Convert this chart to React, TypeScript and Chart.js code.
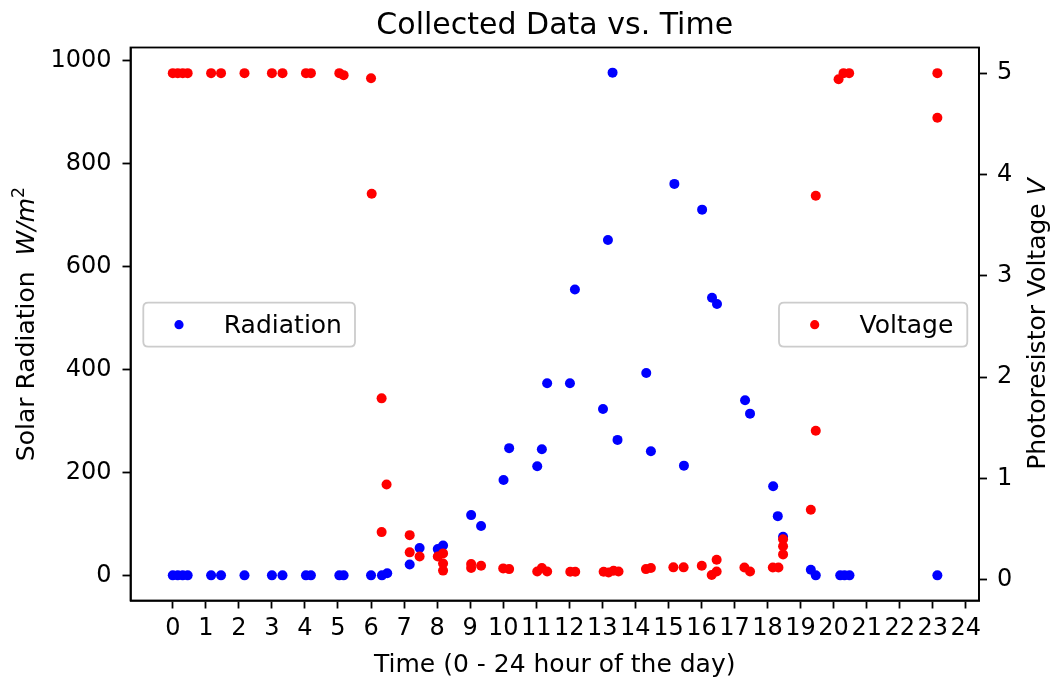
import React, { useEffect, useRef } from "react";
import { Chart, registerables } from "chart.js";

Chart.register(...registerables);

const FONT = '"DejaVu Sans", sans-serif';

const chartTitle = "Collected Data vs. Time";
const xAxisTitle = "Time (0 - 24 hour of the day)";
const radiationLabel = "Radiation";
const voltageLabel = "Voltage";

const radiationHours = [
  0.0, 0.15, 0.3, 0.45, 1.16, 1.46, 2.17, 3.0, 3.32, 4.03, 4.18, 5.04, 5.17, 6.0, 6.33, 6.49,
  7.17, 7.47, 8.02, 8.18, 9.03, 9.33, 10.01, 10.18, 11.03, 11.17, 11.33, 12.02, 12.17, 13.02,
  13.17, 13.31, 13.46, 14.33, 14.47, 15.18, 15.47, 16.02, 16.32, 16.47, 17.32, 17.47, 18.17,
  18.31, 18.47, 19.31, 19.46, 20.2, 20.33, 20.48, 23.14,
];
const radiationValues = [
  0, 0, 0, 0, 0, 0, 0, 0, 0, 0, 0, 0, 0, 0, 0, 4,
  21, 53, 51, 58, 117, 96, 185, 247, 212, 245, 373, 373, 555, 323,
  651, 976, 263, 393, 241, 760, 213, 710, 539, 527, 340, 314, 173,
  115, 75, 11, 0, 0, 0, 0, 0,
];

const voltageHours = [
  0.0, 0.15, 0.3, 0.45, 1.16, 1.46, 2.17, 3.0, 3.32, 4.03, 4.18, 5.04, 5.17, 6.0, 6.02, 6.32,
  6.47, 6.32, 7.17, 7.17, 7.47, 8.02, 8.18, 8.18, 8.18, 9.03, 9.03, 9.33, 10.0, 10.18, 11.03,
  11.17, 11.33, 12.03, 12.18, 13.04, 13.19, 13.34, 13.49, 14.32, 14.47, 15.15, 15.46, 16.01,
  16.31, 16.46, 16.46, 17.3, 17.47, 18.16, 18.33, 18.47, 18.47, 18.47, 19.31, 19.46, 19.46,
  20.15, 20.3, 20.47, 23.14, 23.14,
];
const voltageValues = [
  5.0, 5.0, 5.0, 5.0, 5.0, 5.0, 5.0, 5.0, 5.0, 5.0, 5.0, 5.0, 4.98, 4.95, 3.81, 1.79,
  0.94, 0.47, 0.44, 0.27, 0.23, 0.23, 0.26, 0.16, 0.09, 0.155, 0.115, 0.138, 0.112, 0.105, 0.082,
  0.115, 0.082, 0.079, 0.079, 0.079, 0.072, 0.089, 0.082, 0.105, 0.115, 0.122, 0.122, 0.138,
  0.046, 0.082, 0.198, 0.12, 0.082, 0.12, 0.12, 0.4, 0.33, 0.25, 0.69, 3.79, 1.47,
  4.94, 5.0, 5.0, 5.0, 4.56,
];

const hourTicks = Array.from({ length: 25 }, (_, i) => i);
const radiationTicks = [0, 200, 400, 600, 800, 1000];
const voltageTicks = [0, 1, 2, 3, 4, 5];

type Piece = { text: string; italic?: boolean; sup?: boolean };
const leftAxisTitle: Piece[] = [
  { text: "Solar Radiation  " },
  { text: "W/m", italic: true },
  { text: "2", sup: true },
];
const rightAxisTitle: Piece[] = [
  { text: "Photoresistor Voltage " },
  { text: "V", italic: true },
];

const LABEL_SIZE = 25;

function drawPieces(ctx: CanvasRenderingContext2D, pieces: Piece[], baseX: number, centerY: number) {
  const fontFor = (p: Piece) =>
    `${p.italic ? "italic " : ""}${p.sup ? LABEL_SIZE * 0.7 : LABEL_SIZE}px ${FONT}`;
  let total = 0;
  const widths = pieces.map((p) => {
    ctx.font = fontFor(p);
    const w = ctx.measureText(p.text).width;
    total += w;
    return w;
  });
  ctx.save();
  ctx.translate(baseX, centerY);
  ctx.rotate(-Math.PI / 2);
  ctx.textAlign = "left";
  ctx.textBaseline = "alphabetic";
  ctx.fillStyle = "#000";
  let x = -total / 2;
  pieces.forEach((p, i) => {
    ctx.font = fontFor(p);
    ctx.fillText(p.text, x, p.sup ? -LABEL_SIZE * 0.38 : 0);
    x += widths[i];
  });
  ctx.restore();
}

function drawLegend(
  ctx: CanvasRenderingContext2D,
  left: number,
  width: number,
  midY: number,
  color: string,
  label: string
) {
  const h = 44;
  const top = midY - h / 2;
  const r = 5;
  ctx.save();
  ctx.beginPath();
  ctx.moveTo(left + r, top);
  ctx.lineTo(left + width - r, top);
  ctx.quadraticCurveTo(left + width, top, left + width, top + r);
  ctx.lineTo(left + width, top + h - r);
  ctx.quadraticCurveTo(left + width, top + h, left + width - r, top + h);
  ctx.lineTo(left + r, top + h);
  ctx.quadraticCurveTo(left, top + h, left, top + h - r);
  ctx.lineTo(left, top + r);
  ctx.quadraticCurveTo(left, top, left + r, top);
  ctx.closePath();
  ctx.fillStyle = "rgba(255,255,255,0.8)";
  ctx.fill();
  ctx.strokeStyle = "#cccccc";
  ctx.lineWidth = 1.8;
  ctx.stroke();
  ctx.beginPath();
  ctx.arc(left + 35.7, midY, 4.6, 0, Math.PI * 2);
  ctx.fillStyle = color;
  ctx.fill();
  ctx.fillStyle = "#000";
  ctx.font = `${LABEL_SIZE}px ${FONT}`;
  ctx.textAlign = "left";
  ctx.textBaseline = "alphabetic";
  ctx.fillText(label, left + 80.5, midY + 8.5);
  ctx.restore();
}

const overlayPlugin = {
  id: "overlay",
  afterDraw(chart: any) {
    const ctx: CanvasRenderingContext2D = chart.ctx;
    const ca = chart.chartArea;
    const cx = (ca.left + ca.right) / 2;
    const cy = (ca.top + ca.bottom) / 2;
    ctx.save();
    ctx.strokeStyle = "#000";
    ctx.lineWidth = 1.8;
    ctx.strokeRect(ca.left, ca.top, ca.right - ca.left, ca.bottom - ca.top);
    ctx.fillStyle = "#000";
    ctx.textAlign = "center";
    ctx.textBaseline = "alphabetic";
    ctx.font = `30px ${FONT}`;
    ctx.fillText(chartTitle, cx, 34);
    ctx.font = `${LABEL_SIZE}px ${FONT}`;
    ctx.fillText(xAxisTitle, cx, 671.5);
    ctx.restore();
    drawPieces(ctx, leftAxisTitle, 33.5, cy);
    drawPieces(ctx, rightAxisTitle, 1045, cy);
    const midY = cy + 0.7;
    drawLegend(ctx, ca.left + 12.8, 211.7, midY, "#0000ff", radiationLabel);
    drawLegend(ctx, ca.right - 11.7 - 188.3, 188.3, midY, "#ff0000", voltageLabel);
  },
};

export default function App() {
  const ref = useRef<HTMLCanvasElement | null>(null);

  useEffect(() => {
    if (!ref.current) return;
    const tickFont = { family: FONT, size: 24 };
    const plain = (v: any) => String(v);
    const gridCfg = {
      drawOnChartArea: false,
      drawTicks: true,
      tickLength: 8,
      tickWidth: 1.8,
      tickColor: "#000",
    };
    const borderCfg = { display: true, color: "#000", width: 1.8 };
    const chart = new Chart(ref.current, {
      type: "scatter",
      data: {
        datasets: [
          {
            label: voltageLabel,
            data: voltageHours.map((h, i) => ({ x: h, y: voltageValues[i] })),
            yAxisID: "y1",
            pointRadius: 5,
            pointBackgroundColor: "#ff0000",
            pointBorderWidth: 0,
            borderWidth: 0,
          },
          {
            label: radiationLabel,
            data: radiationHours.map((h, i) => ({ x: h, y: radiationValues[i] })),
            yAxisID: "y",
            pointRadius: 5,
            pointBackgroundColor: "#0000ff",
            pointBorderWidth: 0,
            borderWidth: 0,
          },
        ],
      },
      options: {
        animation: false,
        responsive: false,
        devicePixelRatio: 1,
        events: [],
        layout: { padding: { top: 47.5, left: 0, right: 0, bottom: 0 } },
        plugins: {
          legend: { display: false },
          tooltip: { enabled: false },
          title: { display: false },
        },
        scales: {
          x: {
            type: "linear",
            position: "bottom",
            min: -1.28,
            max: 24.4,
            afterBuildTicks: (s: any) => {
              s.ticks = hourTicks.map((v) => ({ value: v }));
            },
            afterFit: (s: any) => {
              s.height = 79.5;
            },
            ticks: {
              autoSkip: false,
              maxRotation: 0,
              minRotation: 0,
              font: tickFont,
              color: "#000",
              padding: 6,
              callback: plain,
            },
            grid: gridCfg,
            border: borderCfg,
          },
          y: {
            type: "linear",
            position: "left",
            min: -48.8,
            max: 1024.8,
            afterBuildTicks: (s: any) => {
              s.ticks = radiationTicks.map((v) => ({ value: v }));
            },
            afterFit: (s: any) => {
              s.width = 130.5;
            },
            ticks: { font: tickFont, color: "#000", padding: 11, callback: plain },
            grid: gridCfg,
            border: borderCfg,
          },
          y1: {
            type: "linear",
            position: "right",
            min: -0.205,
            max: 5.253,
            afterBuildTicks: (s: any) => {
              s.ticks = voltageTicks.map((v) => ({ value: v }));
            },
            afterFit: (s: any) => {
              s.width = 74;
            },
            ticks: { font: tickFont, color: "#000", padding: 10, callback: plain },
            grid: gridCfg,
            border: borderCfg,
          },
        },
      },
      plugins: [overlayPlugin],
    } as any);
    return () => chart.destroy();
  }, []);

  return (
    <div style={{ position: "absolute", left: 0, top: 0, width: 1053, height: 680, background: "#fff" }}>
      <canvas ref={ref} width={1053} height={680} />
    </div>
  );
}
